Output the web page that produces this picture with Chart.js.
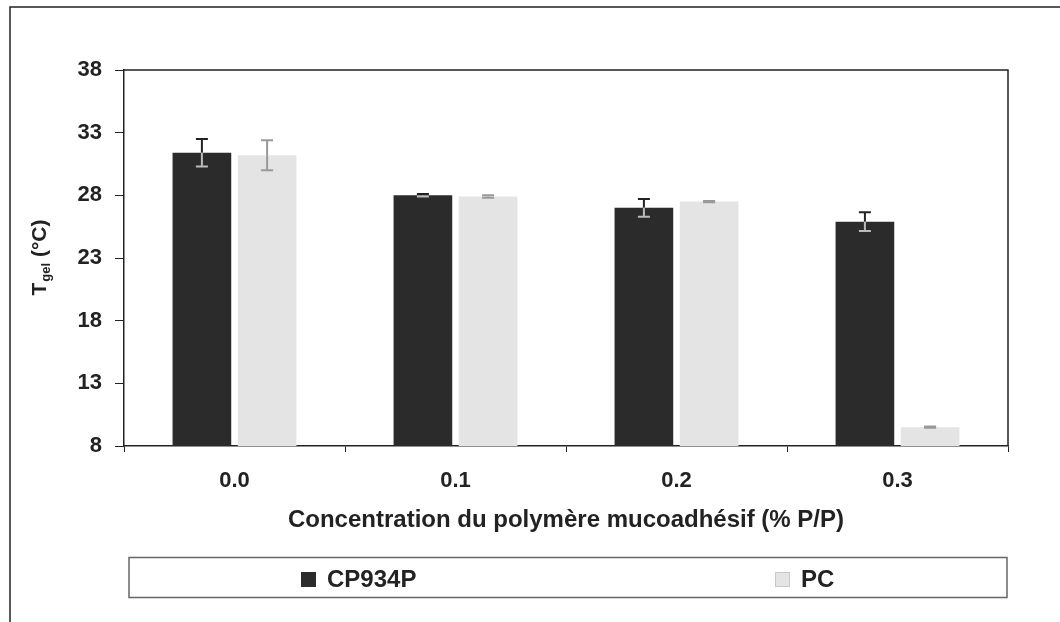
<!DOCTYPE html>
<html>
<head>
<meta charset="utf-8">
<script src="https://cdn.jsdelivr.net/npm/chart.js@4.4.1/dist/chart.umd.min.js"></script>
<style>
  html, body { margin: 0; padding: 0; background: #fff; }
  #wrap { width: 1060px; height: 622px; position: relative; }
</style>
</head>
<body>
<div id="wrap"><canvas id="barChart" width="1060" height="622"></canvas></div>
<script>
    "use strict";

    var categories = ["0.0", "0.1", "0.2", "0.3"];
    var cpValues = [31.4, 28.0, 27.0, 25.9];
    var cpErrors = [1.1, 0.1, 0.7, 0.75];
    var pcValues = [31.2, 27.9, 27.5, 9.5];
    var pcErrors = [1.2, 0.1, 0.05, 0.05];
    var yTicks = [8, 13, 18, 23, 28, 33, 38];

    var FONT = "'Liberation Sans', Arial, sans-serif";
    var errors = [cpErrors, pcErrors];
    var errColors = [["#222", "#bbb"], ["#999", "#999"]];

    // error bars, frame, y title with subscript, legend box
    var extras = {
        id: 'extras',
        afterDatasetsDraw: function (chart) {
            var ctx = chart.ctx;
            var y = chart.scales.y;
            chart.data.datasets.forEach(function (ds, d) {
                var meta = chart.getDatasetMeta(d);
                meta.data.forEach(function (bar, i) {
                    var v = ds.data[i], e = errors[d][i];
                    var top = y.getPixelForValue(v + e);
                    var base = y.getPixelForValue(v);
                    var low = y.getPixelForValue(v - e);
                    ctx.save();
                    ctx.lineWidth = 2;
                    ctx.strokeStyle = errColors[d][0];
                    ctx.beginPath();
                    ctx.moveTo(bar.x, base); ctx.lineTo(bar.x, top);
                    ctx.moveTo(bar.x - 6, top); ctx.lineTo(bar.x + 6, top);
                    ctx.stroke();
                    ctx.strokeStyle = errColors[d][1];
                    ctx.beginPath();
                    ctx.moveTo(bar.x, base); ctx.lineTo(bar.x, low);
                    ctx.moveTo(bar.x - 6, low); ctx.lineTo(bar.x + 6, low);
                    ctx.stroke();
                    ctx.restore();
                });
            });
        },
        afterDraw: function (chart) {
            var ctx = chart.ctx;
            var a = chart.chartArea;
            ctx.save();
            ctx.strokeStyle = "#222";
            ctx.lineWidth = 1.5;
            // outer frame (top + left)
            ctx.beginPath();
            ctx.moveTo(10, 622); ctx.lineTo(10, 7); ctx.lineTo(1060, 7);
            ctx.stroke();
            // plot area top and right
            ctx.beginPath();
            ctx.moveTo(a.left, a.top); ctx.lineTo(a.right, a.top); ctx.lineTo(a.right, a.bottom);
            ctx.stroke();

            // y title: T_gel (°C)
            ctx.translate(39, (a.top + a.bottom) / 2);
            ctx.rotate(-Math.PI / 2);
            ctx.fillStyle = "#222";
            ctx.textBaseline = "alphabetic";
            var big = "bold 21px " + FONT, small = "bold 13px " + FONT;
            ctx.font = big; var w1 = ctx.measureText("T").width;
            ctx.font = small; var w2 = ctx.measureText("gel").width;
            ctx.font = big; var w3 = ctx.measureText(" (°C)").width;
            var x0 = -(w1 + w2 + w3) / 2;
            ctx.font = big; ctx.fillText("T", x0, 7);
            ctx.font = small; ctx.fillText("gel", x0 + w1 + 1, 11);
            ctx.font = big; ctx.fillText(" (°C)", x0 + w1 + w2 + 1, 7);
            ctx.restore();

            // legend box
            ctx.save();
            ctx.strokeStyle = "#666";
            ctx.lineWidth = 1.5;
            ctx.strokeRect(129, 557.5, 878, 40);
            ctx.font = "bold 24px " + FONT;
            ctx.textBaseline = "middle";
            var items = [
                { label: chart.data.datasets[0].label, color: chart.data.datasets[0].backgroundColor, x: 301, border: null },
                { label: chart.data.datasets[1].label, color: chart.data.datasets[1].backgroundColor, x: 775, border: "#c8c8c8" }
            ];
            items.forEach(function (it) {
                ctx.fillStyle = it.color;
                ctx.fillRect(it.x, 572, 15, 15);
                if (it.border) {
                    ctx.strokeStyle = it.border; ctx.lineWidth = 1;
                    ctx.strokeRect(it.x + 0.5, 572.5, 14, 14);
                }
                ctx.fillStyle = "#222";
                ctx.fillText(it.label, it.x + 26, 580);
            });
            ctx.restore();
        }
    };

    var ctx = document.getElementById("barChart");
    var myChart = new Chart(ctx, {
        type: 'bar',
        data: {
            labels: categories,
            datasets: [{
                label: "CP934P",
                data: cpValues,
                backgroundColor: "#2b2b2b",
                barPercentage: 0.9,
                categoryPercentage: 0.59
            }, {
                label: "PC",
                data: pcValues,
                backgroundColor: "#e4e4e4",
                barPercentage: 0.9,
                categoryPercentage: 0.59
            }]
        },
        options: {
            responsive: false,
            animation: false,
            layout: { padding: { left: 0, top: 70, right: 52, bottom: 82 } },
            plugins: {
                legend: { display: false },
                tooltip: { enabled: false }
            },
            scales: {
                x: {
                    grid: { drawOnChartArea: false, color: "#222", tickLength: 6, offset: true },
                    border: { color: "#222", width: 1.5 },
                    ticks: { color: "#222", padding: 16, font: { family: FONT, size: 22, weight: 'bold' } },
                    title: {
                        display: true,
                        text: "Concentration du polymère mucoadhésif (% P/P)",
                        color: "#222",
                        padding: { top: 4, bottom: 5 },
                        font: { family: FONT, size: 24, weight: 'bold' }
                    },
                    afterFit: function (scale) { scale.height = 94; }
                },
                y: {
                    min: 8,
                    max: 38,
                    afterBuildTicks: function (scale) {
                        scale.ticks = yTicks.map(function (v) { return { value: v }; });
                    },
                    grid: { drawOnChartArea: false, color: "#222", tickLength: 9 },
                    border: { color: "#222", width: 1.5 },
                    ticks: { color: "#222", padding: 13, font: { family: FONT, size: 22, weight: 'bold' } },
                    afterFit: function (scale) { scale.width = 124; }
                }
            }
        },
        plugins: [extras]
    });
</script>
</body>
</html>
